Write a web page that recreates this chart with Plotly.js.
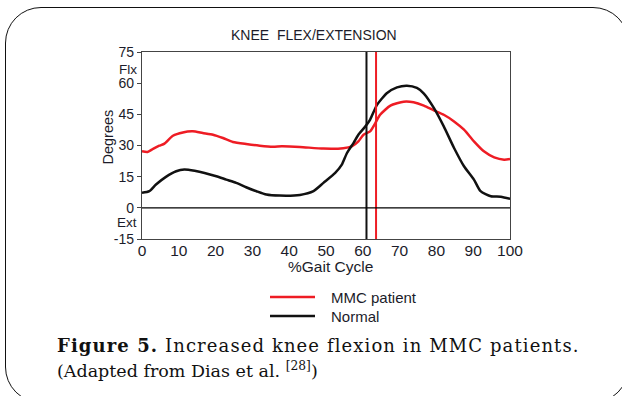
<!DOCTYPE html>
<html>
<head>
<meta charset="utf-8">
<script src="https://cdn.plot.ly/plotly-3.0.1.min.js"></script>
<style>
  html, body { margin: 0; padding: 0; background: #fff; }
  #wrap { position: relative; width: 622px; height: 396px; overflow: hidden; }
  #frame {
    position: absolute; left: 5px; top: 7px; width: 624px; height: 396px;
    border: 1.5px solid #111; border-radius: 36px; box-sizing: border-box;
  }
  #chart { position: absolute; left: 0; top: 0; width: 622px; height: 396px; }
</style>
</head>
<body>
<div id="wrap">
  <div id="frame"></div>
  <div id="chart"></div>
</div>
<script>
// Knee flexion/extension over the gait cycle (degrees)
const mmcGait = [0,1.5,3,4.7,6.1,8.4,11.1,13.8,16.5,19.3,22,24.7,28.3,32,35.6,38,42.9,49.3,54.7,57,58.8,60.2,62,63.4,64.7,67.5,71.1,73.8,76.6,79.3,82,84.8,87.5,90.2,92.9,95.7,98.4,100];
const mmcKnee = [27.2,26.9,28.4,29.9,30.9,34.7,36.3,36.8,36,35.2,33.6,31.7,30.7,29.9,29.4,29.6,29.3,28.5,28.7,29.6,32,35.2,36.8,40.8,44.8,49.2,51.1,50.8,49.2,46.9,44.8,41.6,37.6,32,27.2,24.3,23.2,23.5];

const normalGait = [0,2,3.8,6.5,9.3,11.5,14.3,17,20.2,22.9,25.6,28.3,31.1,33.8,37.4,42.9,46.6,49.3,52.5,54.3,55.7,57.5,58.8,60.7,62,63.9,66.6,69.3,72,74.7,76.6,79.3,82,84.8,87.5,90.2,92,94.8,97.5,100];
const normalKnee = [7.2,8,11.2,14.9,17.6,18.4,17.8,16.8,15.2,13.6,12,9.9,8,6.4,5.9,6.2,8,12,16.8,20.8,26.4,31.3,35.2,39.2,42.5,49.7,55.3,58,58.8,57.7,55,48.1,39.2,28.8,20,13.6,8,5.6,5.3,4.3];

// Toe-off (% gait cycle)
const toeOffNormal = 61;
const toeOffMMC = 63.6;

const seriesNames = ['MMC patient', 'Normal'];
const seriesColors = ['#ee1c24', '#111111'];

const xTicks = [0,10,20,30,40,50,60,70,80,90,100];
const yTicks = [-15,0,15,30,45,60,75];
const yTickText = ['-15','0','15','30','45','60','75'];

const FONT = 'Liberation Sans, Arial, sans-serif';
const TXT = '#1c1c2a';

const traces = [
  { x: mmcGait, y: mmcKnee, name: seriesNames[0] },
  { x: normalGait, y: normalKnee, name: seriesNames[1] }
].map((t, i) => Object.assign(t, {
  type: 'scatter', mode: 'lines', showlegend: false,
  line: { color: seriesColors[i], width: 2.5, shape: 'spline', smoothing: 0.6 },
  hoverinfo: 'skip'
}));

// plot area geometry in pixels (for legend / caption placement)
const L = 142, R = 510, T = 52, B = 239, W = 622, H = 396;

const shapes = [
  { type: 'line', xref: 'x', yref: 'paper', x0: toeOffNormal, x1: toeOffNormal, y0: 0, y1: 1,
    line: { color: seriesColors[1], width: 2 } },
  { type: 'line', xref: 'x', yref: 'paper', x0: toeOffMMC, x1: toeOffMMC, y0: 0, y1: 1,
    line: { color: seriesColors[0], width: 2 } },
  { type: 'line', xref: 'paper', yref: 'y', x0: 0, x1: 1, y0: 0, y1: 0,
    line: { color: '#000', width: 1.2 } }
];

const annotations = [
  { text: 'KNEE  FLEX/EXTENSION', xref: 'paper', yref: 'paper', x: 0.467, y: 1, yshift: 17,
    xanchor: 'center', yanchor: 'middle', showarrow: false, font: { family: FONT, size: 14, color: TXT } },
  { text: 'Flx', xref: 'paper', yref: 'y', x: 0, y: 66.8, xanchor: 'right', xshift: -3,
    showarrow: false, font: { family: FONT, size: 13.5, color: TXT } },
  { text: 'Ext', xref: 'paper', yref: 'y', x: 0, y: -7.2, xanchor: 'right', xshift: -3,
    showarrow: false, font: { family: FONT, size: 13.5, color: TXT } },
  { text: 'Degrees', xref: 'paper', yref: 'paper', x: 0, y: 0.5, xshift: -45, yshift: 8,
    textangle: -90, showarrow: false, font: { family: FONT, size: 14.5, color: TXT } },
  { text: '%Gait Cycle', xref: 'paper', yref: 'paper', x: 0.5, y: 0, yshift: -27, xshift: 4,
    yanchor: 'middle', showarrow: false, font: { family: FONT, size: 15.5, color: TXT } }
];

// legend (line sample + label) below the axis
const legendY = [297, 316];
seriesNames.forEach((name, i) => {
  const py = (B - legendY[i]) / (B - T);
  shapes.push({ type: 'line', xref: 'paper', yref: 'paper',
    x0: (270 - L) / (R - L), x1: (315 - L) / (R - L), y0: py, y1: py,
    line: { color: seriesColors[i], width: 2.4 } });
  annotations.push({ text: name, xref: 'paper', yref: 'paper',
    x: (329 - L) / (R - L), y: py, xanchor: 'left', yanchor: 'middle', showarrow: false,
    font: { family: FONT, size: 15, color: TXT } });
});

// figure caption
const CAP = 'DejaVu Serif, serif';
const captionFirst = annotations.length;
annotations.push(
  { text: '<b>Figure 5.</b> Increased knee flexion in MMC patients.', xref: 'paper', yref: 'paper',
    x: (55 - L) / (R - L), y: (B - 345) / (B - T), xanchor: 'left', yanchor: 'middle',
    showarrow: false, font: { family: CAP, size: 18, color: '#111' } },
  { text: '(Adapted from Dias et al. <sup>[28]</sup>)', xref: 'paper', yref: 'paper',
    x: (55 - L) / (R - L), y: (B - 370) / (B - T), xanchor: 'left', yanchor: 'middle',
    showarrow: false, font: { family: CAP, size: 17.5, color: '#111' } }
);

const layout = {
  width: W, height: H,
  margin: { l: L, r: W - R, t: T, b: H - B, pad: 0 },
  paper_bgcolor: 'rgba(0,0,0,0)', plot_bgcolor: 'rgba(0,0,0,0)',
  showlegend: false,
  xaxis: {
    range: [0, 100], tickvals: xTicks, ticks: '', showgrid: false, zeroline: false,
    showline: true, mirror: true, linecolor: '#444', linewidth: 1.2,
    ticklabelstandoff: -3,
    tickfont: { family: FONT, size: 15.5, color: TXT }, fixedrange: true
  },
  yaxis: {
    range: [-15, 75], tickvals: yTicks, ticktext: yTickText, ticks: 'outside', ticklen: 4,
    tickcolor: '#444', showgrid: false, zeroline: false,
    showline: true, mirror: true, linecolor: '#444', linewidth: 1.2,
    tickfont: { family: FONT, size: 14, color: TXT }, fixedrange: true
  },
  shapes: shapes,
  annotations: annotations
};

Plotly.newPlot('chart', traces, layout, { displayModeBar: false, staticPlot: true }).then(gd => {
  // the first caption line is justified: extra tracking, left edge kept in place
  gd.querySelectorAll('g.annotation').forEach(g => {
    const idx = Number(g.getAttribute('data-index'));
    if (idx === captionFirst) {
      g.querySelectorAll('text').forEach(t => {
        const before = t.getBBox().x;
        t.style.letterSpacing = '1.1px';
        const after = t.getBBox().x;
        const prev = t.getAttribute('transform') || '';
        t.setAttribute('transform', (prev + ' translate(' + (before - after) + ',0)').trim());
      });
    }
  });
});
</script>
</body>
</html>
